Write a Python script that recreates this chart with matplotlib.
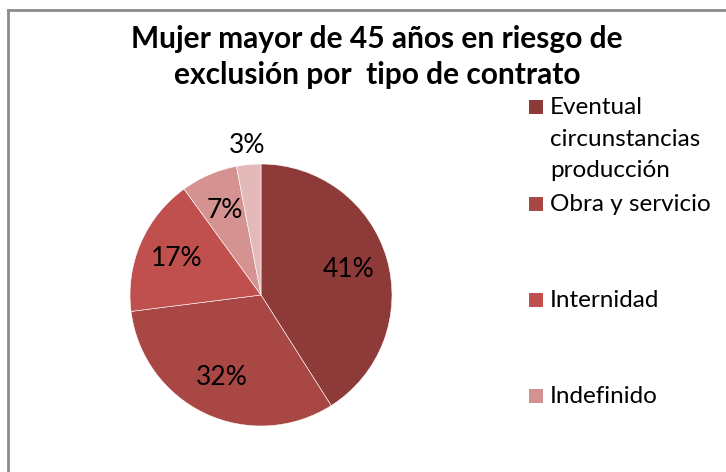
import numpy as np
import matplotlib
matplotlib.use("Agg")
import matplotlib.pyplot as plt
from matplotlib.patches import Rectangle
from matplotlib.lines import Line2D

plt.rcParams["font.family"] = ["Lato", "DejaVu Sans"]

# ---- datos ----
categorias = ["Eventual\ncircunstancias\nproducción", "Obra y servicio",
              "Internidad", "Indefinido", "Otros"]
porcentajes = [41, 32, 17, 7, 3]
colores = ["#8E3A38", "#A94745", "#C0504D", "#D49391", "#E3BAB9"]
titulo = "Mujer mayor de 45 años en riesgo de\nexclusión por  tipo de contrato"

W, H = 726, 472
fig = plt.figure(figsize=(W / 100, H / 100), dpi=100)

# borde gris del gráfico (recortado a derecha y abajo)
fig.add_artist(Line2D([8 / W, 1], [1 - 10 / H, 1 - 10 / H], color="#8c8c8c", lw=2))
fig.add_artist(Line2D([8 / W, 8 / W], [0, 1 - 10 / H], color="#8c8c8c", lw=2))

cx, cy, r = 261, 295, 131
ax = fig.add_axes([(cx - r) / W, (H - cy - r) / H, 2 * r / W, 2 * r / H])
wedges, _ = ax.pie(porcentajes, colors=colores, startangle=90, counterclock=False,
                   radius=1, wedgeprops=dict(edgecolor="white", linewidth=0.4))
ax.set_xlim(-1, 1)
ax.set_ylim(-1, 1)
ax.set_aspect("equal")
ax.axis("off")

for w, p in zip(wedges, porcentajes):
    ang = np.deg2rad((w.theta1 + w.theta2) / 2)
    d = 1.15 if p < 5 else 0.7
    ax.text(d * np.cos(ang), d * np.sin(ang), f"{p}%", ha="center", va="center",
            fontsize=19, color="black")

fig.text(377 / W, 1 - 57 / H, titulo, ha="center", va="center", fontsize=21.5,
         fontweight="bold", linespacing=1.38)

# leyenda (solo las cuatro entradas visibles)
ys = [107, 204, 300, 396]
for w, lab, y in zip(wedges[:4], categorias[:4], ys):
    fig.add_artist(Rectangle((529 / W, 1 - (y + 7) / H), 14 / W, 14 / H,
                             transform=fig.transFigure, facecolor=w.get_facecolor(),
                             edgecolor="none"))
    fig.text(550 / W, 1 - (y - 10) / H, lab, ha="left", va="top", fontsize=17.5,
             linespacing=1.62)

fig.savefig("out.png", dpi=100, facecolor="white")
